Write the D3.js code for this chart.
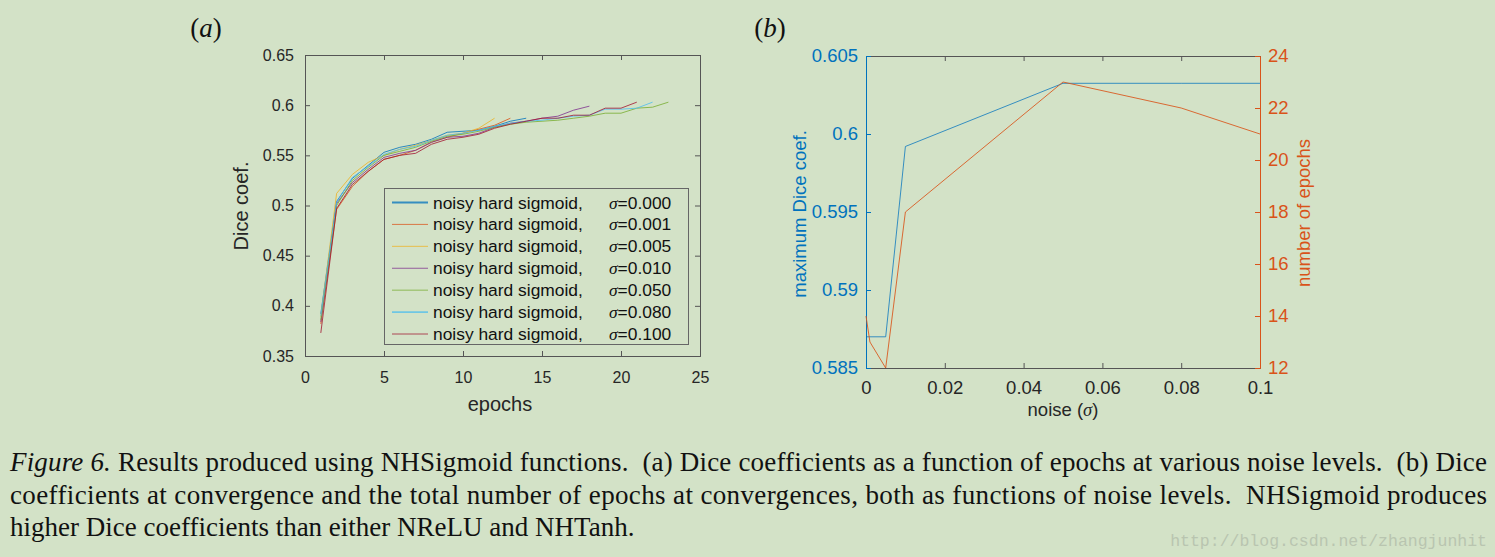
<!DOCTYPE html>
<html><head><meta charset="utf-8">
<script src="https://cdn.jsdelivr.net/npm/d3@7"></script>
<style>
html,body{margin:0;padding:0;background:#d3e2c7;}
svg{display:block;}
</style></head>
<body>
<svg id="chart" width="1495" height="557"></svg>
<script>
// ---------- DATA ----------
const seriesNames = ["σ=0.000","σ=0.001","σ=0.005","σ=0.010","σ=0.050","σ=0.080","σ=0.100"];
const sigmaLabels = ["0.000","0.001","0.005","0.010","0.050","0.080","0.100"];
const dice000 = [0.392,0.504,0.527,0.540,0.553,0.558,0.561,0.566,0.573,0.574,0.575,0.579,0.584,0.587];
const dice001 = [0.382,0.496,0.519,0.534,0.546,0.550,0.555,0.563,0.568,0.572,0.576,0.580,0.587];
const dice005 = [0.389,0.512,0.531,0.543,0.550,0.556,0.560,0.565,0.570,0.572,0.577,0.587];
const dice010 = [0.384,0.502,0.523,0.536,0.548,0.552,0.555,0.563,0.568,0.569,0.572,0.578,0.582,0.584,0.587,0.589,0.595,0.599];
const dice050 = [0.386,0.500,0.525,0.538,0.550,0.554,0.558,0.564,0.569,0.571,0.574,0.578,0.581,0.583,0.584,0.585,0.587,0.589,0.592,0.592,0.597,0.598,0.603];
const dice080 = [0.390,0.503,0.528,0.539,0.551,0.556,0.559,0.565,0.570,0.572,0.575,0.579,0.582,0.584,0.585,0.587,0.589,0.590,0.596,0.596,0.597,0.603];
const dice100 = [0.373,0.497,0.521,0.534,0.546,0.550,0.552,0.561,0.566,0.568,0.571,0.577,0.581,0.584,0.587,0.587,0.590,0.590,0.597,0.597,0.603];
const seriesColors = ["#0072BD","#D95319","#EDB120","#7E2F8E","#77AC30","#4DBEEE","#A2142F"];

const epochTicks = [0,5,10,15,20,25];
const diceTicks = [0.35,0.4,0.45,0.5,0.55,0.6,0.65];

const noiseLevels = [0,0.001,0.005,0.01,0.05,0.08,0.1];
const maxDice = [0.587,0.587,0.587,0.5992,0.60325,0.60325,0.60325];
const numEpochs = [14,13,12,18,23,22,21];
const noiseTicks = [0,0.02,0.04,0.06,0.08,0.1];
const maxDiceTicks = [0.585,0.59,0.595,0.6,0.605];
const epochCountTicks = [12,14,16,18,20,22,24];

// ---------- SETUP ----------
const svg = d3.select("#chart");
const sans = "'Liberation Sans', Arial, sans-serif";
const serif = "'Liberation Serif', 'Times New Roman', serif";
const axisGray = "#555";
const textDark = "#262626";
const blue = "#0072BD", orange = "#D95319";

svg.append("rect").attr("width",1495).attr("height",557).attr("fill","#d3e2c7");

function styleAxis(g, color, fs){
  g.selectAll("path").attr("stroke", color).attr("stroke-width",1);
  g.selectAll("line").attr("stroke", color).attr("stroke-width",1);
  g.selectAll("text").attr("fill", color).attr("font-family", sans).attr("font-size", fs);
}

// ---------- PANEL (a) ----------
const xa = d3.scaleLinear().domain([0,25]).range([305,700]);
const ya = d3.scaleLinear().domain([0.35,0.65]).range([356,55]);
const fmtA = d => d3.format("")(+d.toFixed(2));

const ga = svg.append("g");
styleAxis(ga.append("g").attr("transform","translate(0,55)").call(d3.axisTop(xa).tickValues(epochTicks).tickSize(-5).tickFormat("")), axisGray, 16);
styleAxis(ga.append("g").attr("transform","translate(700,0)").call(d3.axisRight(ya).tickValues(diceTicks).tickSize(-5).tickFormat("")), axisGray, 16);
const axBa = ga.append("g").attr("transform","translate(0,356)").call(d3.axisBottom(xa).tickValues(epochTicks).tickSize(-5).tickPadding(16).tickFormat(d3.format("d")));
styleAxis(axBa, axisGray, 16); axBa.selectAll("text").attr("fill", textDark);
const axLa = ga.append("g").attr("transform","translate(305,0)").call(d3.axisLeft(ya).tickValues(diceTicks).tickSize(-5).tickPadding(11).tickFormat(fmtA));
styleAxis(axLa, axisGray, 16); axLa.selectAll("text").attr("fill", textDark);

ga.append("text").attr("x",500).attr("y",411).attr("text-anchor","middle")
  .attr("font-family",sans).attr("font-size",20).attr("fill",textDark).text("epochs");
ga.append("text").attr("transform","translate(248,206) rotate(-90)").attr("text-anchor","middle")
  .attr("font-family",sans).attr("font-size",20).attr("fill",textDark).text("Dice coef.");

const allDice = [dice000,dice001,dice005,dice010,dice050,dice080,dice100];
const lineA = d3.line().x((d,i)=>xa(i+1)).y(d=>ya(d));
allDice.forEach((arr,k)=>{
  ga.append("path").datum(arr).attr("d",lineA).attr("fill","none")
    .attr("stroke",seriesColors[k]).attr("stroke-width",1).attr("stroke-opacity",0.8);
});

// legend
const lg = ga.append("g");
lg.append("rect").attr("x",384.5).attr("y",188.5).attr("width",304).attr("height",156)
  .attr("fill","#d3e2c7").attr("stroke","#666").attr("stroke-width",1);
const rowY = d3.scaleLinear().domain([0,6]).range([202.5,334]);
sigmaLabels.forEach((s,k)=>{
  const y = rowY(k);
  lg.append("line").attr("x1",392).attr("x2",428).attr("y1",y).attr("y2",y)
    .attr("stroke",seriesColors[k]).attr("stroke-width",(k===0||k===5)?1.8:1).attr("stroke-opacity",0.75);
  lg.append("text").attr("x",433).attr("y",y+6).attr("font-family",sans).attr("font-size",17.4)
    .attr("fill","#111").text("noisy hard sigmoid,");
  const t = lg.append("text").attr("x",609).attr("y",y+6).attr("font-family",sans).attr("font-size",17.4).attr("fill","#111");
  t.append("tspan").attr("font-family",serif).attr("font-style","italic").text("σ");
  t.append("tspan").text("="+s);
});

svg.append("text").attr("x",206).attr("y",37).attr("text-anchor","middle")
  .attr("font-family",serif).attr("font-size",27).attr("fill","#111")
  .html("(<tspan font-style='italic'>a</tspan>)");

// ---------- PANEL (b) ----------
const xb = d3.scaleLinear().domain([0,0.1]).range([866,1260]);
const ybL = d3.scaleLinear().domain([0.585,0.605]).range([368,56]);
const ybR = d3.scaleLinear().domain([12,24]).range([368,56]);
const gb = svg.append("g");
const fsB = 18.5;

styleAxis(gb.append("g").attr("transform","translate(0,56)").call(d3.axisTop(xb).tickValues(noiseTicks).tickSize(-5).tickFormat("")), axisGray, fsB);
const axBb = gb.append("g").attr("transform","translate(0,368)").call(d3.axisBottom(xb).tickValues(noiseTicks).tickSize(-5).tickPadding(13).tickFormat(d=>d3.format("")(+d.toFixed(2))));
styleAxis(axBb, axisGray, fsB); axBb.selectAll("text").attr("fill", textDark);
const axLb = gb.append("g").attr("transform","translate(866,0)").call(d3.axisLeft(ybL).tickValues(maxDiceTicks).tickSize(-5).tickPadding(8).tickFormat(d=>d3.format("")(+d.toFixed(3))));
styleAxis(axLb, blue, fsB);
const axRb = gb.append("g").attr("transform","translate(1260,0)").call(d3.axisRight(ybR).tickValues(epochCountTicks).tickSize(-5).tickPadding(8).tickFormat(d3.format("d")));
styleAxis(axRb, orange, fsB);

const lineBL = d3.line().x((d,i)=>xb(noiseLevels[i])).y(d=>ybL(d));
const lineBR = d3.line().x((d,i)=>xb(noiseLevels[i])).y(d=>ybR(d));
gb.append("path").datum(maxDice).attr("d",lineBL).attr("fill","none").attr("stroke",blue).attr("stroke-width",1).attr("stroke-opacity",0.75);
gb.append("path").datum(numEpochs).attr("d",lineBR).attr("fill","none").attr("stroke",orange).attr("stroke-width",1).attr("stroke-opacity",0.85);

gb.append("text").attr("x",1063).attr("y",416).attr("text-anchor","middle")
  .attr("font-family",sans).attr("font-size",fsB).attr("fill",textDark)
  .html("noise (<tspan font-family=\"'Liberation Serif', serif\" font-style='italic'>σ</tspan>)");
gb.append("text").attr("transform","translate(806,214) rotate(-90)").attr("text-anchor","middle")
  .attr("font-family",sans).attr("font-size",fsB).attr("fill",blue).text("maximum Dice coef.");
gb.append("text").attr("transform","translate(1310,213) rotate(-90)").attr("text-anchor","middle")
  .attr("font-family",sans).attr("font-size",fsB).attr("fill",orange).text("number of epochs");

svg.append("text").attr("x",770).attr("y",37).attr("text-anchor","middle")
  .attr("font-family",serif).attr("font-size",27).attr("fill","#111")
  .html("(<tspan font-style='italic'>b</tspan>)");

// ---------- CAPTION ----------
const capLines = [
  [["Figure 6.",true],[" Results produced using NHSigmoid functions.  (a) Dice coefficients as a function of epochs at various noise levels.  (b) Dice",false]],
  [["coefficients at convergence and the total number of epochs at convergences, both as functions of noise levels.  NHSigmoid produces",false]],
  [["higher Dice coefficients than either NReLU and NHTanh.",false]]
];
const capY = [471, 504, 536];
capLines.forEach((parts,i)=>{
  const t = svg.append("text").attr("x",10).attr("y",capY[i]).attr("font-family",serif)
    .attr("font-size",27).attr("fill","#111").attr("xml:space","preserve");
  parts.forEach(p=>{ t.append("tspan").attr("font-style",p[1]?"italic":"normal").text(p[0]); });
  if(i<2){
    const w = t.node().getComputedTextLength();
    const target = 1477;
    t.attr("textLength", target).attr("lengthAdjust","spacing");
  }
});
svg.append("text").attr("x",1487).attr("y",546).attr("text-anchor","end")
  .attr("font-family","'Liberation Mono', monospace").attr("font-size",16.5).attr("fill","#b9c5b0")
  .text("http://blog.csdn.net/zhangjunhit");
</script>
</body></html>
